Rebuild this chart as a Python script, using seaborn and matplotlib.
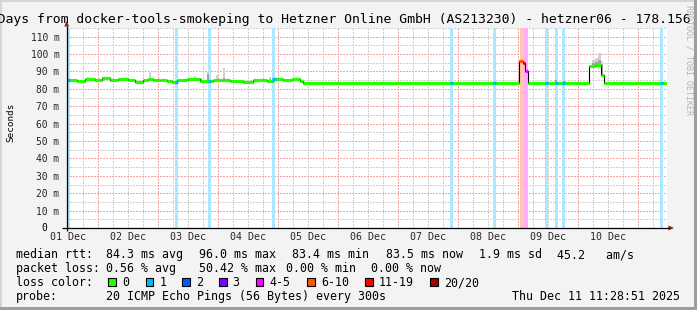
import numpy as np
import matplotlib
matplotlib.use("Agg")
import matplotlib.pyplot as plt
import matplotlib.colors as mcolors
from matplotlib.patches import Rectangle, Polygon
import seaborn as sns

# ---------------- data ----------------
title = "10 Days from docker-tools-smokeping to Hetzner Online GmbH (AS213230) - hetzner06 - 178.156"
day_labels = ["01 Dec", "02 Dec", "03 Dec", "04 Dec", "05 Dec",
              "06 Dec", "07 Dec", "08 Dec", "09 Dec", "10 Dec"]
label_days = [1.5, 2.5, 3.5, 4.5, 5.5, 6.5, 7.5, 8.5, 9.5, 10.5]
y_ticks = [10, 20, 30, 40, 50, 60, 70, 80, 90, 100, 110]
y_tick_labels = ["10 m", "20 m", "30 m", "40 m", "50 m", "60 m",
                 "70 m", "80 m", "90 m", "100 m", "110 m"]

t_start = 1.478   # Dec 1 11:28 (day of month)
t_end = 11.478    # Dec 11 11:28

# median rtt (ms), step function: value holds from med_day[i] to med_day[i+1]
med_day = [1.478, 1.650, 1.783, 1.950, 2.067, 2.200, 2.333, 2.500, 2.617, 2.750,
           2.833, 2.917, 3.033, 3.150, 3.233, 3.317, 3.483, 3.700, 3.917, 4.067,
           4.200, 4.417, 4.583, 4.817, 4.917, 5.083, 5.233, 5.367, 5.417,
           9.017, 9.075, 9.108, 9.167, 10.175, 10.283, 10.383, 10.433]
med_val = [84.9, 84.5, 85.8, 84.9, 86.2, 84.9, 85.5, 84.9, 83.9, 84.9,
           85.8, 84.9, 85.1, 84.5, 83.9, 84.9, 85.5, 84.7, 85.1, 85.3,
           84.5, 84.1, 84.9, 84.5, 85.8, 84.9, 85.5, 84.5, 83.5,
           96.0, 94.9, 90.2, 83.5, 93.2, 93.6, 88.0, 83.5]
med_loss = ["0"] * 29 + ["6-10", "11-19", "4-5", "0", "0", "0", "0", "0"]

# packet loss periods
loss_day = [1.500, 3.308, 3.850, 4.933, 7.892, 8.600, 9.067, 9.133,
            9.475, 9.642, 9.758, 11.392]
loss_hours = [1.2, 1.2, 1.2, 1.2, 1.2, 1.2, 1.6, 1.6, 1.2, 1.2, 1.2, 1.2]
loss_cls = ["1", "1", "1", "1", "1", "1", "6-10", "4-5", "1", "1", "1", "1"]

# smoke (spread of individual pings above the median)
smoke_day = [1.833, 2.867, 3.617, 3.717, 3.833, 3.983, 4.100, 4.867,
             9.633, 9.767, 10.258, 10.308, 10.358, 10.400]
smoke_top = [87.0, 89.7, 87.2, 86.5, 89.7, 87.8, 91.8, 86.8,
             85.4, 87.0, 96.6, 97.6, 100.5, 96.0]
smoke_dark = [85.6, 86.0, 85.6, 85.6, 88.5, 85.8, 86.2, 85.8,
              85.2, 84.6, 95.0, 95.5, 96.8, 94.5]

loss_names = ["0", "1", "2", "3", "4-5", "6-10", "11-19", "20/20"]
loss_hex = ["#26ff00", "#00b8ff", "#0059ff", "#7e00ff", "#ff00ff",
            "#ff5500", "#ff0000", "#a10000"]
loss_colors = dict(zip(loss_names, loss_hex))

stats_line1 = [("median rtt:", 16), ("84.3 ms avg", 107), ("96.0 ms max", 199.5),
               ("83.4 ms min", 293), ("83.5 ms now", 386), ("1.9 ms sd", 479.5),
               ("45.2   am/s", 557.5)]
stats_line2 = [("packet loss:", 16), ("0.56 % avg", 107), ("50.42 % max", 199.5),
               ("0.00 % min", 286.5), ("0.00 % now", 371.5)]
probe_text = "20 ICMP Echo Pings (56 Bytes) every 300s"
date_text = "Thu Dec 11 11:28:51 2025"

# ---------------- figure ----------------
sns.set_theme(style="white")
plt.rcParams["font.family"] = ["DejaVu Sans Mono", "DejaVu Sans"]
plt.rcParams["text.color"] = "black"

W, H = 697, 310
fig = plt.figure(figsize=(W / 100, H / 100), dpi=100)
fig.patch.set_facecolor("#f3f3f3")

L, R, T, B = 66.7, 666.7, 28.0, 228.0
ax = fig.add_axes([L / W, 1 - B / H, (R - L) / W, (B - T) / H])
ax.set_facecolor("white")
ax.set_xlim(t_start, t_end)
ax.set_ylim(0, 115)
for s in ax.spines.values():
    s.set_visible(False)

dots = (0, (1.4, 1.4))
minor_c = "#d0d0d0"
major_c = "#f5a5a5"
# minor grid
minor_x = [d for d in np.arange(1.0, 12.0, 0.25) if abs(d - round(d)) > 1e-6 and t_start < d < t_end]
ax.vlines(minor_x, 0, 115, colors=minor_c, linestyles=dots, lw=0.72, zorder=1,
          antialiaseds=False)
ax.hlines(np.arange(5, 116, 10), t_start, t_end, colors=minor_c, linestyles=dots,
          lw=0.72, zorder=1, antialiaseds=False)
# major grid
ax.vlines(np.arange(2, 12), 0, 115, colors=major_c, linestyles=dots, lw=0.72,
          zorder=1.2, antialiaseds=False)
ax.hlines(y_ticks, t_start, t_end, colors=major_c, linestyles=dots, lw=0.72,
          zorder=1.2, antialiaseds=False)

# loss background bars
def tint(c, a=0.33):
    r, g, b = mcolors.to_rgb(c)
    return (1 - a + a * r, 1 - a + a * g, 1 - a + a * b)

ax.bar(loss_day, 115, width=[h / 24 for h in loss_hours],
       color=[tint(loss_colors[c]) for c in loss_cls], zorder=2, linewidth=0)

# smoke
med_day_a = np.array(med_day)
med_val_a = np.array(med_val)
def med_at(d):
    i = np.searchsorted(med_day_a, d, side="right") - 1
    return med_val_a[i]

sm_base = np.array([med_at(d) for d in smoke_day])
ax.bar(smoke_day, np.array(smoke_top) - sm_base, bottom=sm_base, width=0.035,
       color="#d2d2d2", zorder=3, linewidth=0)
dk = np.maximum(np.array(smoke_dark) - sm_base, 0)
ax.bar(smoke_day, dk, bottom=sm_base, width=0.035, color="#a4a4a4", zorder=3.1, linewidth=0)

# median line: thin black step + thick loss-coloured segments
sx = med_day + [t_end]
sy = med_val + [med_val[-1]]
sns.lineplot(x=sx, y=sy, drawstyle="steps-post", color="black", lw=0.8,
             ax=ax, zorder=4, estimator=None, sort=False)
seg_end = med_day[1:] + [t_end]
ax.hlines(med_val, med_day, seg_end, colors=[loss_colors[c] for c in med_loss],
          lw=2.3, zorder=5)
for d, h, c in zip(loss_day, loss_hours, loss_cls):
    if c in ("1", "2", "3"):
        w = h / 24
        ax.hlines(med_at(d), max(d - w / 2, t_start), min(d + w / 2, t_end),
                  colors=loss_colors[c], lw=2.3, zorder=5.5)

ax.set_xlabel("")
ax.set_ylabel("")

# ticks
ax.set_xticks(label_days)
ax.set_xticklabels(day_labels, fontsize=7.2)
ax.set_yticks(y_ticks)
ax.set_yticklabels(y_tick_labels, fontsize=6.9)
ax.tick_params(axis="x", length=0, pad=3.2)
ax.tick_params(axis="y", length=0, pad=5.2)
ax.grid(False)

# ---------------- overlay (pixel coords) ----------------
ov = fig.add_axes([0, 0, 1, 1], zorder=10)
ov.set_xlim(0, W)
ov.set_ylim(H, 0)
ov.axis("off")
ov.patch.set_alpha(0)

# frame
ov.add_patch(Rectangle((0, 0), W, 2, color="#d6d6d6", lw=0))
ov.add_patch(Rectangle((0, 0), 2, H, color="#d6d6d6", lw=0))
ov.add_patch(Rectangle((0, H - 3), W, 3, color="#9e9e9e", lw=0))
ov.add_patch(Rectangle((W - 3, 0), 3, H, color="#9e9e9e", lw=0))

# axes lines and arrows
ov.plot([62, 669], [228, 228], color="black", lw=0.9, solid_capstyle="butt")
ov.plot([66.7, 66.7], [231, 25.5], color="black", lw=0.9, solid_capstyle="butt")
ov.add_patch(Polygon([[66.7, 21.0], [64.2, 26.5], [69.2, 26.5]], closed=True,
                     color="#8f1e1e", lw=0))
ov.add_patch(Polygon([[674.0, 228], [668.5, 225.5], [668.5, 230.5]], closed=True,
                     color="#8f1e1e", lw=0))

# zero label
ov.text(47.2, 228, "0", ha="right", va="center", fontsize=6.9)

# title
ov.text(-26.5, 23.3, title, ha="left", va="baseline", fontsize=9.45)

# y label
ov.text(11, 122, "Seconds", rotation=90, ha="center", va="center", fontsize=6.7)

# rrdtool credit
ov.text(688.5, 5, "RRDTOOL / TOBI OETIKER", rotation=270, ha="center", va="top",
        fontsize=6.0, color="#b4b4b4")

# legend
fs = 8.4
yb = [258.3, 272.2, 286.1, 300.0]
for s, x in stats_line1:
    ov.text(x - 0.5, yb[0], s, ha="left", va="baseline", fontsize=fs)
for s, x in stats_line2:
    ov.text(x - 0.5, yb[1], s, ha="left", va="baseline", fontsize=fs)
ov.text(15.5, yb[2], "loss color:", ha="left", va="baseline", fontsize=fs)
box_x = [108.3, 145.7, 182.3, 219.0, 255.7, 307.3, 365.3, 430.3]
for bx, name in zip(box_x, loss_names):
    ov.add_patch(Rectangle((bx, 278.3), 7.7, 7.7, facecolor=loss_colors[name],
                           edgecolor="black", lw=0.8))
    ov.text(bx + 13.5, yb[2], name, ha="left", va="baseline", fontsize=fs)
ov.text(15.5, yb[3], "probe:", ha="left", va="baseline", fontsize=fs)
ov.text(106.5, yb[3], probe_text, ha="left", va="baseline", fontsize=fs)
ov.text(680.5, yb[3], date_text, ha="right", va="baseline", fontsize=fs)

fig.savefig("out.png", dpi=100, facecolor=fig.get_facecolor())
